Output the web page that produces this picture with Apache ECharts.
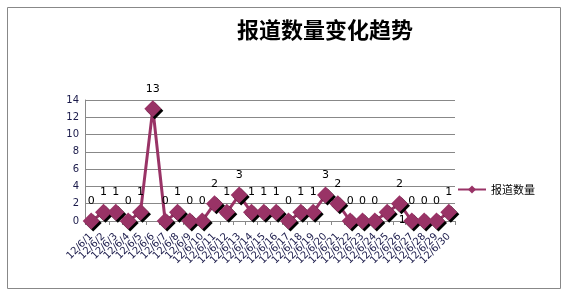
<!DOCTYPE html>
<html>
<head>
<meta charset="utf-8">
<script src="https://cdn.jsdelivr.net/npm/echarts@6/dist/echarts.min.js"></script>
<style>html,body{margin:0;padding:0;background:#fff;}#c{width:564px;height:292px;}</style>
</head>
<body>
<div id="c"></div>
<script>
var titleText = '报道数量变化趋势';
var seriesName = '报道数量';
var categories = ['12/6/1','12/6/2','12/6/3','12/6/4','12/6/5','12/6/6','12/6/7','12/6/8','12/6/9','12/6/10',
  '12/6/11','12/6/12','12/6/13','12/6/14','12/6/15','12/6/16','12/6/17','12/6/18','12/6/19','12/6/20',
  '12/6/21','12/6/22','12/6/23','12/6/24','12/6/25','12/6/26','12/6/27','12/6/28','12/6/29','12/6/30'];
var values = [0,1,1,0,1,13,0,1,0,0,2,1,3,1,1,1,0,1,1,3,2,0,0,0,1,2,0,0,0,1];
var yTicks = [0,2,4,6,8,10,12,14];

var color = '#993366';
var data = values.map(function(v, i){
  var d = {value: v};
  if (i === 24) d.label = {position: 'inside', offset: [15, 8]};
  return d;
});

var chart = echarts.init(document.getElementById('c'));
chart.setOption({
  animation: false,
  backgroundColor: '#fff',
  graphic: [{type:'rect', left:5, top:5, shape:{width:553, height:281}, style:{fill:'none', stroke:'#888', lineWidth:1}}],
  title: {text: titleText, left: 320, top: 14, textAlign: 'center',
    textStyle: {fontFamily: 'Noto Sans CJK SC', fontSize: 22, fontWeight: 'bold', color: '#000'}},
  legend: {data: [seriesName], left: 452, top: 179, itemWidth: 28, itemHeight: 10,
    textStyle: {fontFamily: 'Noto Sans CJK SC', fontSize: 11, color: '#000'}},
  grid: {left: 85, right: 109, top: 100, bottom: 71, containLabel: false, outerBoundsMode: 'none'},
  xAxis: {type: 'category', data: categories, boundaryGap: true,
    axisLine: {lineStyle: {color: '#888'}},
    axisTick: {show: true, alignWithLabel: false, length: 4, lineStyle: {color: '#888'}},
    axisLabel: {interval: 0, rotate: 45, hideOverlap: false,
      fontSize: 10, fontFamily: 'DejaVu Sans', color: '#1a1a4a', margin: 14}},
  yAxis: {type: 'value', min: 0, max: 14, interval: 2,
    axisLine: {show: true, lineStyle: {color: '#888'}},
    axisTick: {show: false},
    splitLine: {lineStyle: {color: '#888'}},
    axisLabel: {fontSize: 10, fontFamily: 'DejaVu Sans', color: '#1a1a4a', margin: 6}},
  series: [{
    name: seriesName, type: 'line', data: data,
    symbol: 'diamond', symbolSize: 17,
    lineStyle: {color: color, width: 3},
    itemStyle: {color: color, shadowColor: '#000', shadowOffsetX: 2, shadowOffsetY: 2, shadowBlur: 0},
    label: {show: true, position: 'top', distance: 6, fontSize: 11, fontFamily: 'DejaVu Sans', color: '#000'}
  }]
});
</script>
</body>
</html>
